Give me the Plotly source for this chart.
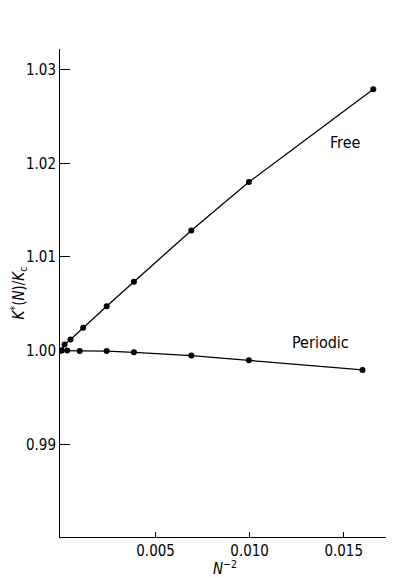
import plotly.graph_objects as go

free_x = [0.0, 0.00016, 0.00048, 0.00115, 0.0024, 0.00385, 0.0069, 0.00996, 0.01657]
free_y = [1.0000, 1.00064, 1.00118, 1.00243, 1.00474, 1.00735, 1.01283, 1.0180, 1.0279]
per_x = [0.0, 0.0003, 0.00097, 0.0024, 0.00385, 0.0069, 0.00996, 0.0160]
per_y = [1.0000, 1.0000, 0.99997, 0.99995, 0.99982, 0.99947, 0.99896, 0.99794]
x_ticks = [0.005, 0.010, 0.015]
x_tick_text = ["0.005", "0.010", "0.015"]
y_ticks = [0.99, 1.00, 1.01, 1.02, 1.03]
y_tick_text = ["0.99", "1.00", "1.01", "1.02", "1.03"]

font = "DejaVu Sans Condensed, Liberation Sans Narrow, Arial"

fig = go.Figure()
for xs, ys in [(free_x, free_y), (per_x, per_y)]:
    fig.add_trace(go.Scatter(x=xs, y=ys, mode="lines+markers",
                             line=dict(color="black", width=1.3),
                             marker=dict(color="black", size=6),
                             showlegend=False))

fig.add_annotation(x=0.01508, y=1.0222, text="Free", showarrow=False,
                   font=dict(family=font, size=16, color="black"))
fig.add_annotation(x=0.01375, y=1.00086, text="Periodic", showarrow=False,
                   font=dict(family=font, size=16, color="black"))
# x-axis title placed as an annotation below the tick labels
fig.add_annotation(x=0.5, y=0, xref="paper", yref="paper", yanchor="top",
                   yshift=-19, text="<i>N</i><sup>−2</sup>", showarrow=False,
                   font=dict(family=font, size=15, color="black"))

# the page body has an 8px margin, so the figure is shrunk by 8px
fig.update_layout(
    width=386, height=569,
    margin=dict(l=52, r=4, t=41, b=40),
    plot_bgcolor="white", paper_bgcolor="white",
    font=dict(family=font, size=15, color="black"),
    xaxis=dict(range=[-0.00008, 0.01746], tickvals=x_ticks, ticktext=x_tick_text,
               ticks="inside", ticklen=5, tickcolor="black", showgrid=False,
               zeroline=False, showline=True, linecolor="black", linewidth=1,
               automargin=False),
    yaxis=dict(range=[0.9801, 1.0322], tickvals=y_ticks, ticktext=y_tick_text,
               ticks="inside", ticklen=10, tickcolor="black", showgrid=False,
               zeroline=False, showline=True, linecolor="black", linewidth=1,
               automargin=False,
               title=dict(text="<i>K</i><sup>*</sup>(<i>N</i>)/<i>K</i><sub>c</sub>", standoff=6, font=dict(size=15))),
)

fig.write_html("out.html")
